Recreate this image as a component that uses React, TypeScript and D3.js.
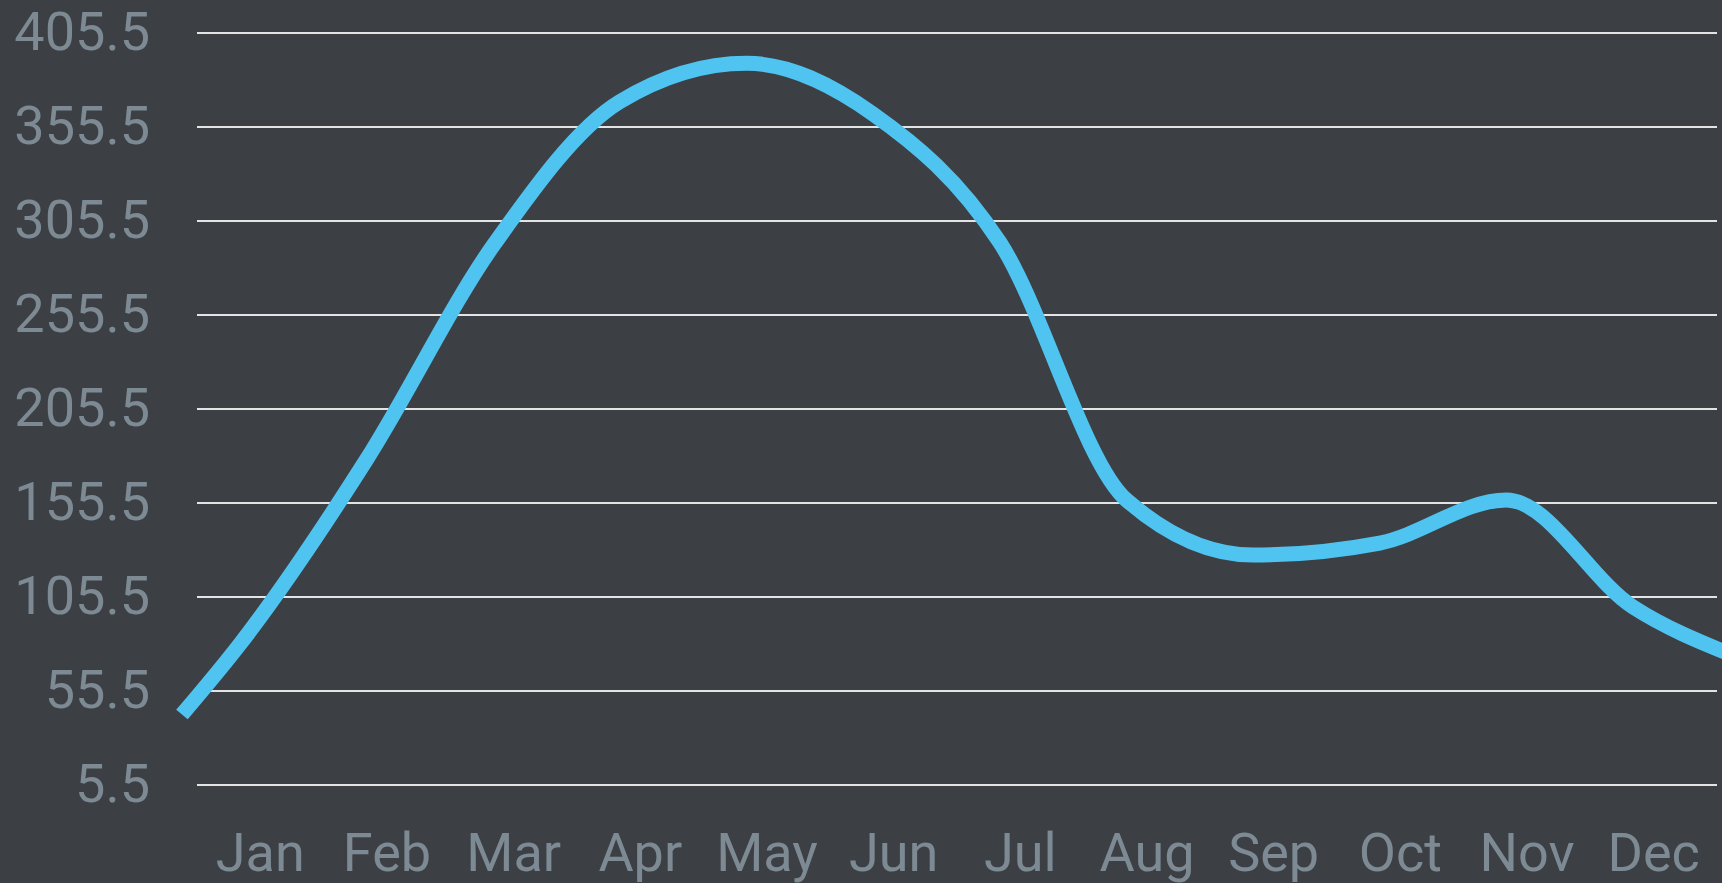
import React, { useEffect, useRef } from "react";
import * as d3 from "d3";

const months = ["Jan", "Feb", "Mar", "Apr", "May", "Jun", "Jul", "Aug", "Sep", "Oct", "Nov", "Dec"];
const values = [80.5, 178.7, 292.5, 369.0, 389.4, 362.4, 294.1, 157.1, 127.8, 134.2, 157.1, 100.2];
// values where the line runs past the first and last month
const edgeValues = [43.0, 74.7];
const yTicks = [5.5, 55.5, 105.5, 155.5, 205.5, 255.5, 305.5, 355.5, 405.5];

const W = 1722;
const H = 883;

export default function App() {
  const ref = useRef<SVGSVGElement | null>(null);

  useEffect(() => {
    document.body.style.margin = "0";
    const svg = d3.select(ref.current);
    svg.selectAll("*").remove();

    const left = 197;
    const right = 1717;
    const top = 33;
    const bottom = 785;
    const lineW = 15;

    svg.append("rect").attr("width", W).attr("height", H).attr("fill", "#3c4045");

    const x = d3.scaleBand<string>().domain(months).range([left, right]).padding(0);
    const y = d3.scaleLinear().domain([5.5, 405.5]).range([bottom, top]);
    // line points sit a little left of the label centres
    const lx = d3.scalePoint<string>().domain(months).range([left + 43, right - 84]);

    svg
      .append("g")
      .selectAll("line")
      .data(yTicks)
      .join("line")
      .attr("x1", left)
      .attr("x2", right)
      .attr("y1", (d) => y(d))
      .attr("y2", (d) => y(d))
      .attr("stroke", "#e4e4e4")
      .attr("stroke-width", 2);

    svg
      .append("g")
      .selectAll("text")
      .data(yTicks)
      .join("text")
      .attr("x", 150)
      .attr("y", (d) => y(d))
      .attr("dy", "0.31em")
      .attr("text-anchor", "end")
      .attr("font-family", "Roboto")
      .attr("font-size", 54)
      .attr("fill", "#7d8a93")
      .text((d) => d.toFixed(1));

    svg
      .append("g")
      .selectAll("text")
      .data(months)
      .join("text")
      .attr("x", (d) => (x(d) as number) + x.bandwidth() / 2)
      .attr("y", 871)
      .attr("text-anchor", "middle")
      .attr("font-family", "Roboto")
      .attr("font-size", 54)
      .attr("fill", "#7d8a93")
      .text((d) => d);

    const pts: [number, number][] = [];
    pts.push([left - lineW, y(edgeValues[0])]);
    months.forEach((m, i) => pts.push([lx(m) as number, y(values[i])]));
    pts.push([right + lineW, y(edgeValues[1])]);

    const line = d3.line().curve(d3.curveMonotoneX);
    svg
      .append("path")
      .attr("d", line(pts))
      .attr("fill", "none")
      .attr("stroke", "#4fc4f1")
      .attr("stroke-width", lineW)
      .attr("stroke-linecap", "butt")
      .attr("stroke-linejoin", "round");
  }, []);

  return (
    <svg
      ref={ref}
      width={W}
      height={H}
      style={{ display: "block", position: "absolute", left: 0, top: 0 }}
    />
  );
}
